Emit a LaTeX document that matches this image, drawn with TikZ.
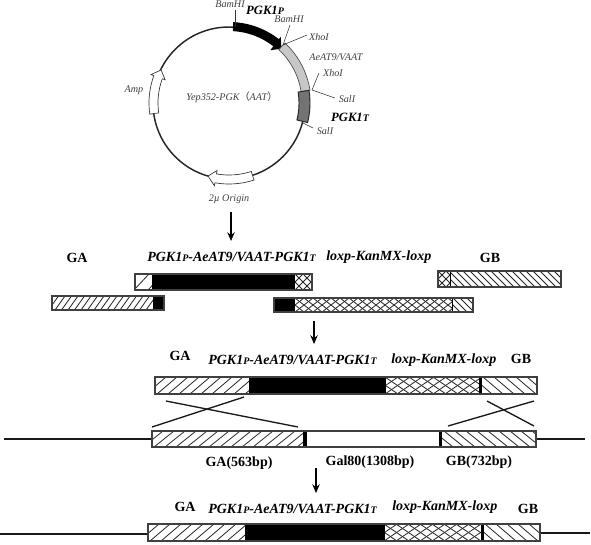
\documentclass[tikz,border=0pt]{standalone}
\usepackage{fontspec}
\setmainfont{Liberation Serif}
\newfontfamily\cjkf{Noto Sans CJK SC}
\usetikzlibrary{arrows.meta}
\newcommand\sm[1]{{\fontsize{7.5}{8}\selectfont #1}}
\newcommand\PGKtxt{PGK1\sm{P}-AeAT9/VAAT-PGK1\sm{T}}
% x1 x2 y1 y2 step run
\newcommand\slashfill[6]{\begin{scope}\clip (#1,#3) rectangle (#2,#4);
 \foreach \k in {0,...,70}{\draw[hatchline] ({#1-#6+\k*#5},#4) -- ({#1+\k*#5},#3);}\end{scope}}
\newcommand\backfill[6]{\begin{scope}\clip (#1,#3) rectangle (#2,#4);
 \foreach \k in {0,...,70}{\draw[hatchline] ({#1-#6+\k*#5},#3) -- ({#1+\k*#5},#4);}\end{scope}}
\newcommand\crossfill[6]{\slashfill{#1}{#2}{#3}{#4}{#5}{#6}\backfill{#1}{#2}{#3}{#4}{#5}{#6}}
\tikzset{
 x=.75pt,y=-.75pt,
 hatchline/.style={line width=.6pt,black!85},
 boxline/.style={draw=black!75,line width=1pt},
 blackfill/.style={fill=black},
 plasline/.style={draw=black!85,line width=1.1pt},
 lead/.style={draw=black!80,line width=.4pt},
 arrowline/.style={line width=1.2pt,-{Stealth[length=6.5pt,width=5.5pt]}},
 crossline/.style={line width=1pt,black!90},
 wire/.style={line width=.9pt,black!90},
 enz/.style={font=\fontsize{7.6}{8}\selectfont\itshape,text=black!75,inner sep=0pt},
 bi/.style={font=\fontsize{10.5}{11}\selectfont\bfseries\itshape,inner sep=0pt},
 bl/.style={font=\fontsize{10.5}{11}\selectfont\bfseries,inner sep=0pt},
}
\begin{document}
\begin{tikzpicture}
\useasboundingbox[fill=white] (0,0) rectangle (591,544);
% ---- plasmid
\begin{scope}[shift={(229,103)},x=.75pt,y=.75pt]
 \draw[plasline] (0,0) circle (76);
 \draw[fill=white,draw=black!80,line width=.5pt] (188:71) arc[start angle=188,end angle=160,radius=71] -- (160:68) -- (154:75.5) -- (160:83) -- (160:80) arc[start angle=160,end angle=188,radius=80] -- cycle;
 \draw[fill=white,draw=black!80,line width=.5pt] (288:72) arc[start angle=288,end angle=260,radius=72] -- (260:68.5) -- (254:76) -- (260:84) -- (260:81) arc[start angle=260,end angle=288,radius=81] -- cycle;
 \fill[black] (87:72) arc[start angle=87,end angle=52,radius=72] -- (52:67) -- (46:75.5) -- (52:84) -- (52:81) arc[start angle=52,end angle=87,radius=81] -- cycle;
 \draw[fill=black!22,draw=black!70,line width=.5pt] (47:73) arc[start angle=47,end angle=9,radius=73] -- (9:82) arc[start angle=9,end angle=47,radius=82] -- cycle;
 \draw[fill=black!55,draw=black!85,line width=.7pt] (9:70) arc[start angle=9,end angle=-14,radius=70] -- (-14:81) arc[start angle=-14,end angle=9,radius=81] -- cycle;
\end{scope}
\node[enz] (plasname) at (232,97) {Yep352-PGK{\cjkf（}AAT{\cjkf）}};
\node[enz] (amp) at (134,90) {Amp};
\node[enz] (ori) at (229,199) {2µ Origin};
\node[enz] (bam1) at (230,4) {BamHI};
\node[enz] (bam2) at (289,19) {BamHI};
\node[enz] (xho1) at (319,37) {XhoI};
\node[enz] (xho2) at (333,73) {XhoI};
\node[enz] (sal1) at (347,99) {SalI};
\node[enz] (sal2) at (325,131) {SalI};
\node[enz] (aat) at (336,57) {AeAT9/VAAT};
\node[bi,font=\fontsize{9.5}{10}\selectfont\bfseries\itshape] (pgkp) at (265,10) {PGK1\sm{P}};
\node[bi,font=\fontsize{9.5}{10}\selectfont\bfseries\itshape] (pgkt) at (350,117) {PGK1\sm{T}};
\coordinate (b1a) at (235,10); \coordinate (b1b) at (235,27);
\coordinate (b2a) at (290,25); \coordinate (site) at (283,45);
\coordinate (x1a) at (307,35);
\coordinate (x2a) at (319,73); \coordinate (site2) at (312,90);
\coordinate (s1a) at (335,98);
\coordinate (s2a) at (313,128); \coordinate (s2b) at (303,123);
\draw[lead] (b1a) -- (b1b);
\draw[lead] (b2a) -- (site);
\draw[lead] (x1a) -- (site);
\draw[lead] (x2a) -- (site2);
\draw[lead] (s1a) -- (site2);
\draw[lead] (s2a) -- (s2b);
% ---- arrows
\coordinate (a1a) at (231,212); \coordinate (a1b) at (231,241);
\coordinate (a2a) at (314,321); \coordinate (a2b) at (314,344);
\coordinate (a3a) at (316,468); \coordinate (a3b) at (316,493);
\draw[arrowline] (a1a) -- (a1b);
\draw[arrowline] (a2a) -- (a2b);
\draw[arrowline] (a3a) -- (a3b);
% ---- first row texts
\node[bl] (ga1) at (77,258) {GA};
\node[bi,anchor=west] (p1) at (147,257) {\PGKtxt};
\node[bi,anchor=west] (l1) at (326,257) {loxp-KanMX-loxp};
\node[bl] (gb1) at (490,258) {GB};
% bar 1
\slashfill{135}{152}{274}{290}{14}{15}
\fill[blackfill] (152,274) rectangle (295,290);
\crossfill{295}{312}{274}{290}{8}{16}
\draw[boxline] (135,274) rectangle (312,290);
% bar 2 right top
\crossfill{438}{450}{271}{287}{8}{16}
\backfill{451}{561}{271}{287}{7}{16}
\draw[line width=1pt] (450.5,271) -- (450.5,287);
\draw[boxline] (438,271) rectangle (561,287);
% bar 3 left
\slashfill{52}{153}{296}{310}{6.5}{10}
\fill[blackfill] (153,296) rectangle (164,310);
\draw[boxline] (52,296) rectangle (164,310);
% bar 4 right
\fill[blackfill] (274,298) rectangle (295,312);
\crossfill{295}{452}{298}{312}{9}{18}
\backfill{453}{473}{298}{312}{7}{14}
\draw[line width=1pt] (452.5,298) -- (452.5,312);
\draw[boxline] (274,298) rectangle (473,312);
% ---- second group
\node[bl] (ga2) at (180,356) {GA};
\node[bi,anchor=west] (p2) at (208,360) {\PGKtxt};
\node[bi,anchor=west] (l2) at (391,360) {loxp-KanMX-loxp};
\node[bl] (gb2) at (521,359) {GB};
\slashfill{155}{249}{377}{394}{11}{20}
\fill[blackfill] (249,377) rectangle (386,394);
\crossfill{386}{479}{377}{394}{12}{25}
\backfill{481}{537}{377}{394}{11}{20}
\fill[blackfill] (479,377) rectangle (482,394);
\draw[boxline] (155,377) rectangle (537,394);
% crossings
\coordinate (c1) at (166,401); \coordinate (c2) at (298,427);
\coordinate (c3) at (244,397); \coordinate (c4) at (152,427);
\coordinate (c5) at (487,401); \coordinate (c6) at (534,426);
\coordinate (c7) at (534,401); \coordinate (c8) at (448,426);
\draw[crossline] (c1) -- (c2);
\draw[crossline] (c3) -- (c4);
\draw[crossline] (c5) -- (c6);
\draw[crossline] (c7) -- (c8);
% genome
\coordinate (w1) at (4,439); \coordinate (w2) at (152,439);
\coordinate (w3) at (536,439); \coordinate (w4) at (585,439);
\draw[wire] (w1) -- (w2);
\draw[wire] (w3) -- (w4);
\slashfill{152}{303}{431}{447}{11}{20}
\fill[blackfill] (303,431) rectangle (306.5,447);
\fill[blackfill] (439,431) rectangle (442,447);
\backfill{442}{536}{431}{447}{11}{20}
\draw[boxline] (152,431) rectangle (536,447);
\node[bl] (lab1) at (239,463) {GA(563bp)};
\node[bl] (lab2) at (370,462) {Gal80(1308bp)};
\node[bl] (lab3) at (479,462) {GB(732bp)};
% ---- third group
\node[bl] (ga3) at (185,507) {GA};
\node[bi,anchor=west] (p3) at (208,509) {\PGKtxt};
\node[bi,anchor=west] (l3) at (392,507) {loxp-KanMX-loxp};
\node[bl] (gb3) at (528,509) {GB};
\coordinate (w5) at (0,534); \coordinate (w6) at (148,534);
\coordinate (w7) at (540,533); \coordinate (w8) at (590,533);
\draw[wire] (w5) -- (w6);
\draw[wire] (w7) -- (w8);
\slashfill{148}{245}{524}{541}{11}{20}
\fill[blackfill] (245,524) rectangle (385,541);
\crossfill{385}{481}{524}{541}{12}{25}
\backfill{483}{540}{524}{541}{11}{20}
\fill[blackfill] (481,524) rectangle (484,541);
\draw[boxline] (148,524) rectangle (540,541);
\end{tikzpicture}
\end{document}
